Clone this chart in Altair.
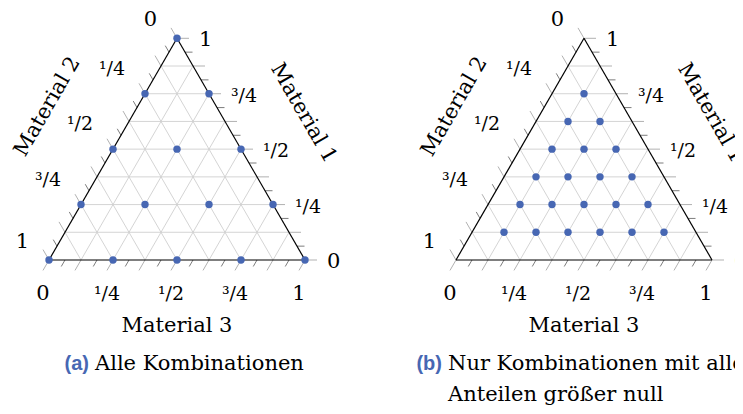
import math
import altair as alt
import pandas as pd

# ---------------- data ----------------
panel_ids = ["a", "b"]
caption_tags = ["(a)", "(b)"]
caption_line1 = ["Alle Kombinationen", "Nur Kombinationen mit allen"]
caption_line2 = ["", "Anteilen größer null"]
axis_titles = {"m1": "Material 1", "m2": "Material 2", "m3": "Material 3"}
tick_values = [0, 0.25, 0.5, 0.75, 1]
tick_labels = ["0", "¹/4", "¹/2", "³/4", "1"]

# (a) all combinations in quarters: shares of Material 1 and Material 3
a_m1 = [0, 0, 0, 0, 0, 0.25, 0.25, 0.25, 0.25, 0.5, 0.5, 0.5, 0.75, 0.75, 1]
a_m3 = [0, 0.25, 0.5, 0.75, 1, 0, 0.25, 0.5, 0.75, 0, 0.25, 0.5, 0, 0.25, 0]
# (b) only combinations with all shares > 0, in eighths
b_m1_8 = [1, 1, 1, 1, 1, 1, 2, 2, 2, 2, 2, 3, 3, 3, 3, 4, 4, 4, 5, 5, 6]
b_m3_8 = [1, 2, 3, 4, 5, 6, 1, 2, 3, 4, 5, 1, 2, 3, 4, 1, 2, 3, 1, 2, 1]

# ---------------- geometry / layout ----------------
H = math.sqrt(3) / 2
PX = 256.0                        # pixels per triangle side
panel_offset = [0.0, 407 / PX]    # horizontal shift of each ternary panel
GRID_DIV = 8
TICK_DIV = 16
L_MAJ = 12 / PX
L_MIN = 7.5 / PX

def cart(m1, m3):
    return m3 + m1 / 2.0, m1 * H

segs = []
def seg(p, x1, y1, x2, y2, kind):
    o = panel_offset[p]
    segs.append(dict(x=x1 + o, y=y1, x2=x2 + o, y2=y2, kind=kind))

for p in range(2):
    for k in range(1, GRID_DIV):
        v = k / GRID_DIV
        seg(p, v / 2, v * H, 1 - v / 2, v * H, "grid")
        seg(p, v, 0, v + (1 - v) / 2, (1 - v) * H, "grid")
        seg(p, (1 - v) / 2, (1 - v) * H, 1 - v, 0, "grid")
    for j in range(TICK_DIV + 1):
        v = j / TICK_DIV
        major = j % 2 == 0
        L = L_MAJ if major else L_MIN
        kind = "major" if major else "minor"
        x0, y0 = 1 - v / 2, v * H
        seg(p, x0, y0, x0 + L, y0, kind)
        x0, y0 = v, 0
        seg(p, x0, y0, x0 - 0.5 * L, y0 - H * L, kind)
        x0, y0 = (1 - v) / 2, (1 - v) * H
        seg(p, x0, y0, x0 - 0.5 * L, y0 + H * L, kind)
    seg(p, 0, 0, 1, 0, "edge")
    seg(p, 1, 0, 0.5, H, "edge")
    seg(p, 0.5, H, 0, 0, "edge")

seg_df = pd.DataFrame(segs)

pts = []
for m1, m3 in zip(a_m1, a_m3):
    x, y = cart(m1, m3)
    pts.append(dict(x=x + panel_offset[0], y=y, m1=m1, m2=1 - m1 - m3, m3=m3))
for m1, m3 in zip(b_m1_8, b_m3_8):
    x, y = cart(m1 / 8, m3 / 8)
    pts.append(dict(x=x + panel_offset[1], y=y, m1=m1 / 8, m2=1 - (m1 + m3) / 8, m3=m3 / 8))
pts_df = pd.DataFrame(pts)

labs = []
for p in range(2):
    o = panel_offset[p]
    for v, t in zip(tick_values, tick_labels):
        frac = "/" in t
        labs.append(dict(axis="m1", x=1 - v / 2 + o, y=v * H, t=t, frac=frac))
        labs.append(dict(axis="m3", x=v + o, y=0.0, t=t, frac=frac))
        labs.append(dict(axis="m2", x=(1 - v) / 2 + o, y=(1 - v) * H, t=t, frac=frac))
lab_df = pd.DataFrame(labs)

titles = []
for p in range(2):
    o = panel_offset[p]
    titles.append(dict(axis="m1", x=0.75 + o, y=H / 2, t=axis_titles["m1"]))
    titles.append(dict(axis="m2", x=0.25 + o, y=H / 2, t=axis_titles["m2"]))
    titles.append(dict(axis="m3", x=0.5 + o, y=0.0, t=axis_titles["m3"]))
title_df = pd.DataFrame(titles)

caps = []
for p in range(2):
    caps.append(dict(x=panel_offset[p] + 0.5, y=0.0, tag=caption_tags[p],
                     l1=caption_line1[p], l2=caption_line2[p], panel=panel_ids[p]))
cap_df = pd.DataFrame(caps)

# ---------------- chart ----------------
xs = alt.Scale(domain=[-41 / PX, 686 / PX], nice=False, zero=False)
ys = alt.Scale(domain=[-146 / PX, 252 / PX], nice=False, zero=False)
X = alt.X("x:Q", scale=xs, axis=None)
Y = alt.Y("y:Q", scale=ys, axis=None)

FONT = "DejaVu Serif"
BLUE = "#4767b3"
FS = 21
FS_FRAC = 19

def rules(kind, color, width):
    return alt.Chart(seg_df).transform_filter(alt.datum.kind == kind).mark_rule(
        color=color, strokeWidth=width
    ).encode(x=X, y=Y, x2="x2:Q", y2="y2:Q")

grid = rules("grid", "#cfcfcf", 0.9)
major = rules("major", "#a8a8a8", 0.9)
minor = rules("minor", "#5a5a5a", 0.8)
edges = rules("edge", "#000000", 1.2)

points = alt.Chart(pts_df).mark_circle(size=55, color=BLUE, opacity=1).encode(
    x=X, y=Y, tooltip=["m1:Q", "m2:Q", "m3:Q"]
)

size_cond = alt.condition("datum.frac", alt.value(FS_FRAC), alt.value(FS))

def tick_text(axis, align, dx, dy, frac=None):
    base = alt.Chart(lab_df).transform_filter(alt.datum.axis == axis)
    if frac is not None:
        base = base.transform_filter(alt.datum.frac == frac)
    return base.mark_text(
        font=FONT, align=align, baseline="alphabetic", dx=dx, dy=dy, color="black"
    ).encode(x=X, y=Y, text="t:N", size=size_cond)

t_right = tick_text("m1", "left", 22, 8)
t_bottom = tick_text("m3", "center", -6, 40)
t_left_int = tick_text("m2", "right", -20, -12, frac=False)
t_left_frac = tick_text("m2", "right", -20, -19, frac=True)

def title_text(axis, angle, dx, dy):
    return alt.Chart(title_df).transform_filter(alt.datum.axis == axis).mark_text(
        font=FONT, fontSize=FS, align="center", baseline="middle",
        angle=angle, dx=dx, dy=dy, color="black"
    ).encode(x=X, y=Y, text="t:N")

ti_1 = title_text("m1", 60, 0, -72)
ti_2 = title_text("m2", 300, 4, -78)

ti_3 = alt.Chart(title_df).transform_filter(alt.datum.axis == "m3").mark_text(
    font=FONT, fontSize=FS, align="center", baseline="alphabetic", dy=72, color="black"
).encode(x=X, y=Y, text="t:N")

cap_a = alt.Chart(cap_df).transform_filter(alt.datum.panel == "a")
cap_b = alt.Chart(cap_df).transform_filter(alt.datum.panel == "b")

def tag(src, dx):
    return src.mark_text(font="Liberation Sans", fontWeight="bold", fontSize=20,
                         color=BLUE, align="right", baseline="alphabetic",
                         dx=dx, dy=110).encode(x=X, y=Y, text="tag:N")

def line(src, field, dx, dy):
    return src.mark_text(font=FONT, fontSize=FS, color="black", align="left",
                         baseline="alphabetic", dx=dx, dy=dy).encode(x=X, y=Y, text=field)

tag_a = tag(cap_a, -88)
l1_a = line(cap_a, "l1:N", -82, 110)
tag_b = tag(cap_b, -142)
l1_b = line(cap_b, "l1:N", -136, 110)
l2_b = line(cap_b, "l2:N", -136, 141)

chart = alt.layer(
    grid, major, minor, edges, points,
    t_right, t_bottom, t_left_int, t_left_frac, ti_1, ti_2, ti_3,
    tag_a, l1_a, tag_b, l1_b, l2_b,
).properties(
    width=727, height=398, autosize=alt.AutoSizeParams(type="none"), padding=0
).configure_view(stroke=None)

chart.save("out.html", embed_options={"renderer": "svg", "actions": False})
